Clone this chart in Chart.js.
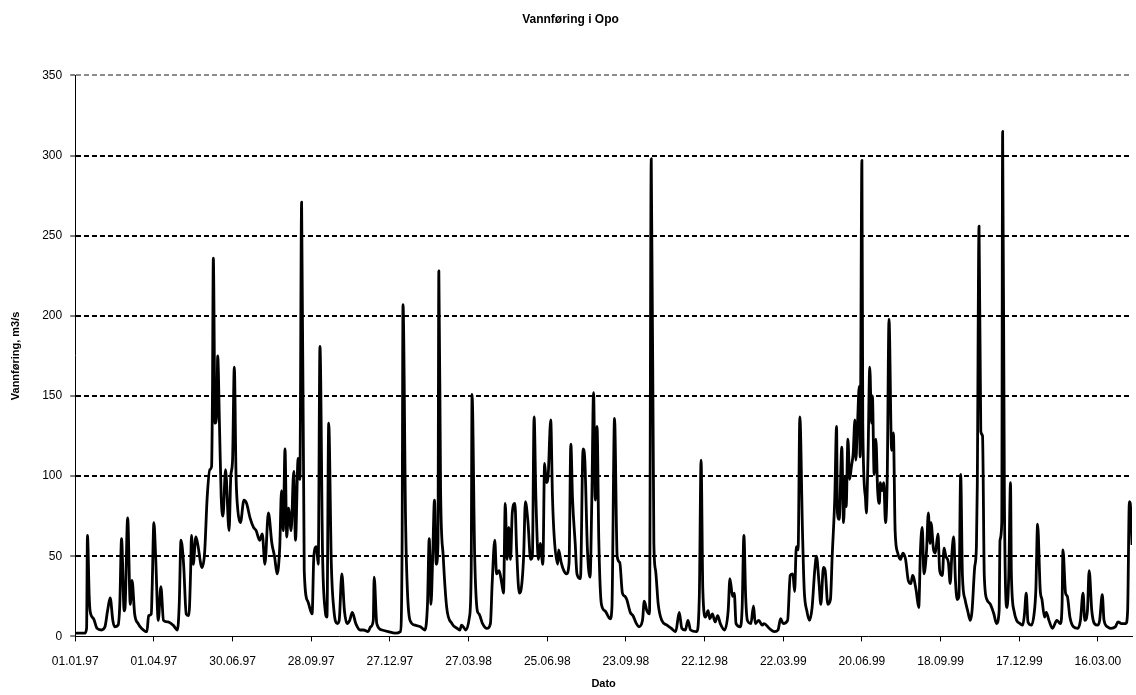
<!DOCTYPE html>
<html>
<head>
<meta charset="utf-8">
<title>Vannføring i Opo</title>
<script src="https://cdn.jsdelivr.net/npm/chart.js@4.4.1/dist/chart.umd.min.js"></script>
<style>
  html, body { margin: 0; padding: 0; background: #ffffff; }
  #wrap { width: 1136px; height: 695px; }
</style>
</head>
<body>
<div id="wrap"><canvas id="flowChart" width="1136" height="695"></canvas></div>
<script>
// =================================================================
// DATA (dag nr. fra 01.01.97, vannføring m3/s lest av figuren)
// =================================================================
const days = [
  0, 11, 13, 14, 16, 17, 21, 25, 30, 34, 37, 40, 43, 45, 49, 51, 53, 56, 57, 60,
  63, 65, 68, 72, 76, 82, 84, 87, 88, 90, 92, 95, 98, 101, 106, 112, 117, 119, 121, 124,
  127, 130, 132, 133, 135, 138, 140, 145, 148, 151, 154, 156, 157, 158, 160, 162, 163, 165, 167, 169,
  172, 176, 178, 180, 182, 184, 186, 189, 193, 196, 200, 204, 207, 211, 214, 217, 221, 225, 228, 231,
  234, 236, 238, 240, 242, 244, 247, 250, 252, 255, 257, 259, 262, 266, 271, 273, 276, 278, 280, 283,
  286, 288, 290, 293, 296, 300, 302, 305, 308, 311, 314, 317, 321, 326, 330, 335, 338, 341, 342, 345,
  351, 358, 366, 372, 374, 375, 378, 380, 383, 389, 395, 400, 403, 405, 407, 409, 411, 413, 415, 416,
  418, 421, 425, 431, 437, 440, 442, 447, 451, 453, 454, 457, 460, 462, 466, 471, 475, 477, 480, 482,
  485, 488, 490, 492, 494, 496, 498, 500, 503, 505, 508, 510, 513, 515, 518, 521, 523, 525, 527, 530,
  532, 535, 537, 539, 541, 544, 546, 548, 552, 553, 556, 559, 562, 565, 567, 569, 572, 574, 578, 581,
  583, 586, 589, 591, 593, 595, 597, 599, 602, 606, 612, 614, 617, 620, 623, 626, 629, 631, 635, 638,
  642, 645, 649, 651, 654, 657, 659, 662, 664, 667, 671, 677, 682, 687, 691, 694, 698, 701, 704, 711,
  714, 716, 718, 721, 724, 726, 729, 732, 735, 738, 743, 747, 749, 752, 754, 756, 761, 763, 765, 767,
  769, 773, 776, 778, 782, 786, 788, 794, 800, 804, 807, 810, 815, 818, 821, 823, 825, 827, 829, 832,
  834, 837, 840, 843, 846, 848, 851, 853, 856, 858, 861, 864, 866, 869, 871, 872, 874, 877, 879, 881,
  882, 884, 886, 888, 890, 892, 893, 895, 897, 898, 900, 901, 904, 905, 907, 909, 911, 912, 914, 916,
  918, 920, 921, 923, 925, 927, 929, 931, 934, 936, 938, 941, 944, 947, 950, 953, 956, 958, 962, 965,
  967, 969, 971, 974, 976, 978, 979, 982, 984, 987, 989, 992, 994, 996, 999, 1001, 1003, 1005, 1007, 1009,
  1011, 1013, 1015, 1018, 1021, 1024, 1026, 1029, 1031, 1032, 1034, 1036, 1038, 1040, 1043, 1047, 1051, 1054, 1057, 1058,
  1060, 1061, 1063, 1066, 1068, 1070, 1071, 1074, 1077, 1081, 1084, 1086, 1088, 1090, 1094, 1097, 1099, 1101, 1104, 1106,
  1109, 1111, 1114, 1118, 1123, 1127, 1129, 1130, 1133, 1135, 1138, 1142, 1147, 1150, 1153, 1155, 1158, 1160, 1163, 1166,
  1170, 1172, 1175, 1177, 1181, 1185, 1190, 1193, 1197, 1202, 1204, 1206, 1207, 1209
];

const flow = [
  2, 2, 5, 63, 25, 16, 11, 5, 4, 6, 16, 24, 10, 6, 7, 20, 61, 16, 18, 74,
  20, 35, 14, 8, 5, 3, 13, 14, 30, 71, 50, 10, 31, 10, 9, 7, 4, 20, 60, 45,
  14, 13, 40, 63, 45, 62, 58, 43, 52, 87, 104, 106, 150, 236, 133, 140, 175, 133, 87, 75,
  104, 66, 100, 110, 168, 100, 79, 71, 85, 83, 74, 68, 66, 60, 64, 45, 77, 58, 50, 39,
  56, 91, 66, 117, 62, 80, 66, 103, 60, 111, 98, 271, 41, 22, 14, 50, 56, 45, 181, 50,
  16, 12, 133, 45, 16, 8, 10, 39, 16, 8, 10, 15, 8, 4, 4, 3, 6, 10, 37, 8,
  4, 3, 2, 3, 60, 207, 70, 29, 10, 7, 6, 4, 20, 61, 20, 50, 85, 45, 58, 228,
  91, 50, 18, 8, 5, 4, 7, 4, 12, 40, 151, 50, 16, 14, 8, 5, 8, 33, 60, 39,
  41, 33, 27, 83, 48, 68, 48, 77, 83, 54, 27, 29, 50, 84, 71, 48, 50, 137, 87, 48,
  58, 45, 108, 96, 100, 135, 87, 62, 45, 54, 46, 41, 39, 46, 120, 85, 58, 39, 36, 117,
  110, 54, 37, 85, 152, 85, 131, 60, 20, 16, 11, 18, 136, 50, 46, 27, 25, 23, 15, 13,
  8, 6, 10, 22, 16, 14, 298, 58, 41, 20, 10, 7, 5, 3, 15, 5, 4, 10, 4, 3,
  25, 110, 29, 12, 16, 11, 14, 9, 13, 8, 4, 16, 36, 25, 27, 8, 6, 18, 63, 25,
  10, 8, 19, 8, 10, 7, 8, 5, 3, 4, 11, 8, 10, 38, 39, 28, 56, 54, 137, 66,
  29, 16, 10, 18, 41, 50, 33, 20, 43, 41, 20, 23, 50, 87, 131, 77, 73, 118, 71, 100,
  81, 123, 98, 106, 114, 135, 110, 133, 156, 112, 297, 133, 87, 77, 112, 168, 133, 150, 101, 123,
  91, 83, 96, 91, 96, 71, 100, 198, 116, 127, 66, 52, 48, 52, 48, 35, 33, 38, 29, 18,
  54, 68, 39, 54, 77, 58, 71, 54, 52, 64, 41, 38, 55, 50, 46, 33, 52, 62, 35, 23,
  25, 101, 38, 23, 16, 10, 16, 43, 56, 94, 256, 128, 125, 38, 23, 20, 14, 8, 16, 60,
  71, 315, 87, 18, 38, 96, 39, 16, 10, 8, 7, 14, 27, 9, 7, 14, 29, 70, 29, 23,
  12, 15, 10, 5, 10, 8, 20, 54, 27, 25, 12, 6, 5, 10, 27, 10, 16, 41, 16, 8,
  7, 10, 26, 10, 6, 5, 6, 9, 8, 8, 16, 84, 83, 57
];

const tickDays = [0, 90, 180, 270, 360, 450, 540, 630, 720, 810, 900, 990, 1080, 1170];
const tickLabels = [
  '01.01.97', '01.04.97', '30.06.97', '28.09.97', '27.12.97', '27.03.98', '25.06.98',
  '23.09.98', '22.12.98', '22.03.99', '20.06.99', '18.09.99', '17.12.99', '16.03.00'
];

// =================================================================
// CHART
// =================================================================
const FONT = "'Liberation Sans', Arial, sans-serif";
let flowChart;

function initializeChart() {
  const points = days.map((d, i) => ({ x: d, y: flow[i] }));
  const ctx = document.getElementById('flowChart').getContext('2d');

  flowChart = new Chart(ctx, {
    type: 'line',
    data: {
      datasets: [{
        label: 'Vannføring',
        data: points,
        borderColor: '#000000',
        borderWidth: 2.8,
        borderJoinStyle: 'round',
        pointRadius: 0,
        cubicInterpolationMode: 'monotone',
        fill: false
      }]
    },
    options: {
      responsive: false,
      animation: false,
      layout: { padding: { left: 9, right: 4, top: 0, bottom: 4 } },
      plugins: {
        legend: { display: false },
        tooltip: { enabled: false },
        title: {
          display: true,
          text: 'Vannføring i Opo',
          color: '#000000',
          font: { family: FONT, size: 12, weight: 'bold' },
          padding: { top: 12, bottom: 49 }
        }
      },
      scales: {
        x: {
          type: 'linear',
          min: 0,
          max: 1209,
          afterBuildTicks: (axis) => {
            axis.ticks = tickDays.map(v => ({ value: v }));
          },
          ticks: {
            autoSkip: false,
            maxRotation: 0,
            color: '#000000',
            font: { family: FONT, size: 12 },
            padding: 13,
            callback: (value) => {
              const i = tickDays.indexOf(value);
              return i >= 0 ? tickLabels[i] : '';
            }
          },
          grid: {
            drawOnChartArea: false,
            drawTicks: true,
            tickLength: 5,
            color: '#000000'
          },
          border: { display: true, color: '#000000', width: 1 },
          title: {
            display: true,
            text: 'Dato',
            color: '#000000',
            font: { family: FONT, size: 11, weight: 'bold' },
            padding: { top: -4, bottom: 0 }
          }
        },
        y: {
          min: 0,
          max: 350,
          ticks: {
            stepSize: 50,
            color: '#000000',
            font: { family: FONT, size: 12 },
            padding: 8
          },
          grid: {
            color: (c) => (c.tick && c.tick.value === 350 ? '#8c8c8c' : '#000000'),
            lineWidth: (c) => (c.tick && c.tick.value === 0 ? 0 : 2),
            tickColor: '#000000',
            tickWidth: 1,
            tickLength: 5,
            tickBorderDash: [],
            drawTicks: true
          },
          // in v4 border.dash sets the dash of the grid lines
          border: { display: true, color: '#000000', width: 1, dash: [5, 3] },
          title: {
            display: true,
            text: 'Vannføring, m3/s',
            color: '#000000',
            font: { family: FONT, size: 11, weight: 'bold' },
            padding: { top: 0, bottom: 12 }
          }
        }
      }
    }
  });
}

document.addEventListener('DOMContentLoaded', () => {
  initializeChart();
});
</script>
</body>
</html>
